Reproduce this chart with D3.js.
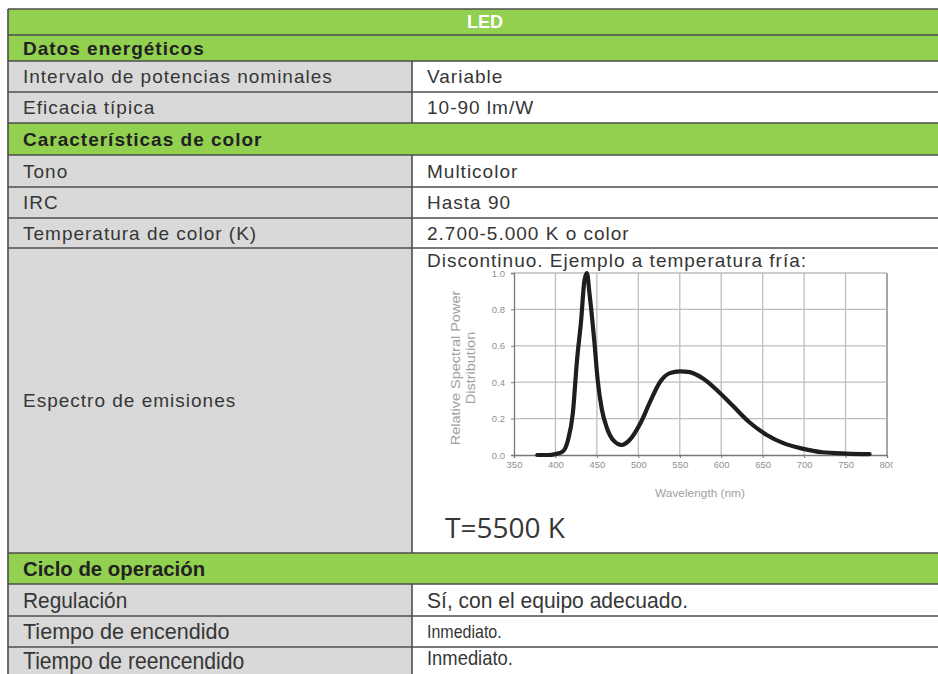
<!DOCTYPE html>
<html lang="es">
<head>
<meta charset="UTF-8">
<title>LED</title>
<script src="https://cdnjs.cloudflare.com/ajax/libs/d3/7.8.5/d3.min.js"></script>
<style>
    body { margin: 0; background: #fff; }
    svg { display: block; }
</style>
</head>
<body>
<svg id="chart" width="938" height="674"></svg>
<script>
// table content
const tableTitle = "LED";
const rowKinds = ["title", "section", "row", "row", "section", "row", "row", "row", "chart", "section", "row", "row", "row"];
const rowLabels = ["LED", "Datos energéticos", "Intervalo de potencias nominales", "Eficacia típica",
    "Características de color", "Tono", "IRC", "Temperatura de color (K)", "Espectro de emisiones",
    "Ciclo de operación", "Regulación", "Tiempo de encendido", "Tiempo de reencendido"];
const rowValues = ["", "", "Variable", "10-90 lm/W", "", "Multicolor", "Hasta 90", "2.700-5.000 K o color",
    "Discontinuo. Ejemplo a temperatura fría:", "", "Sí, con el equipo adecuado.", "Inmediato.", "Inmediato."];

// spectrum
const wavelengths = [378, 390, 400, 409, 415, 421, 426, 431, 435, 438, 441, 447, 451, 456, 462, 470, 480, 490,
    502, 514, 526, 538, 550, 562, 578, 594, 614, 634, 655, 675, 698, 722, 751, 779];
const spd = [0, 0, 0.005, 0.02, 0.08, 0.23, 0.52, 0.74, 0.96, 1.0, 0.89, 0.62, 0.41, 0.25, 0.15, 0.08, 0.055, 0.085,
    0.17, 0.29, 0.40, 0.45, 0.46, 0.455, 0.42, 0.36, 0.27, 0.18, 0.11, 0.065, 0.035, 0.015, 0.008, 0.005];
const xTicks = [350, 400, 450, 500, 550, 600, 650, 700, 750, 800];
const yTicks = [0, 0.2, 0.4, 0.6, 0.8, 1.0];
const colorTemp = "T=5500 K";

// layout
const rowEdges = [9, 35, 61, 92, 123, 155, 187, 218, 248, 553, 584, 616, 647, 690];
const tableLeft = 8, tableRight = 940, colSplit = 412;
const green = "#92d050", grey = "#d9d9d9", line = "#4d4d4d", ink = "#363636";
const sans = "Liberation Sans, Arial, sans-serif";
// the last block is set in another face: [font size, horizontal scale]
const lower = {
    9: { label: [21, 0.97] },
    10: { label: [21.5, 0.97], value: [21.5, 0.98] },
    11: { label: [22, 0.98], value: [18, 0.89] },
    12: { label: [23, 0.92], value: [20, 0.92] }
};

const svg = d3.select("#chart");

function addText(x, y, s, opts) {
    const sx = opts.scale || 1;
    return svg.append("text")
        .attr("transform", `translate(${x},${y}) scale(${sx},1)`)
        .attr("dy", "0.36em")
        .attr("font-family", sans)
        .attr("font-size", opts.size)
        .attr("font-weight", opts.bold ? "bold" : "normal")
        .attr("letter-spacing", opts.spacing || 0)
        .attr("fill", opts.fill || ink)
        .text(s);
}

rowKinds.forEach((kind, i) => {
    const y0 = rowEdges[i], y1 = rowEdges[i + 1];
    const cy = (y0 + y1) / 2;
    const lw = lower[i];
    if (kind === "title" || kind === "section") {
        svg.append("rect").attr("x", tableLeft).attr("y", y0).attr("width", tableRight - tableLeft)
            .attr("height", y1 - y0).attr("fill", green);
        if (kind === "title") {
            addText(485, cy, tableTitle, { size: 18, bold: true, fill: "#fff" }).attr("text-anchor", "middle");
        } else if (lw) {
            addText(23, cy, rowLabels[i], { size: lw.label[0], scale: lw.label[1], bold: true, fill: "#222" });
        } else {
            addText(23, cy, rowLabels[i], { size: 19, bold: true, spacing: 1, fill: "#222" });
        }
        return;
    }
    svg.append("rect").attr("x", tableLeft).attr("y", y0).attr("width", colSplit - tableLeft)
        .attr("height", y1 - y0).attr("fill", grey);
    svg.append("rect").attr("x", colSplit).attr("y", y0).attr("width", tableRight - colSplit)
        .attr("height", y1 - y0).attr("fill", "#fff");

    const last = i === rowKinds.length - 1;
    const labelY = last ? 661 : cy;
    const valueY = kind === "chart" ? 260 : (last ? 658 : cy);
    if (lw) {
        addText(23, labelY, rowLabels[i], { size: lw.label[0], scale: lw.label[1] });
        addText(427, valueY, rowValues[i], { size: lw.value[0], scale: lw.value[1] });
    } else {
        addText(23, labelY, rowLabels[i], { size: 19, spacing: 1 });
        addText(427, valueY, rowValues[i], { size: 19, spacing: 1 });
    }
});

// table rules
svg.append("g").selectAll("line").data(rowEdges.slice(0, -1)).join("line")
    .attr("x1", tableLeft).attr("x2", tableRight)
    .attr("y1", d => d).attr("y2", d => d)
    .attr("stroke", line).attr("stroke-width", 1.6);
svg.append("line").attr("x1", tableLeft).attr("x2", tableLeft).attr("y1", rowEdges[0]).attr("y2", 674)
    .attr("stroke", line).attr("stroke-width", 1.6);
rowKinds.forEach((kind, i) => {
    if (kind === "row" || kind === "chart") {
        svg.append("line").attr("x1", colSplit).attr("x2", colSplit)
            .attr("y1", rowEdges[i]).attr("y2", rowEdges[i + 1])
            .attr("stroke", line).attr("stroke-width", 1.6);
    }
});

// embedded spectrum plot (the picture is cropped at the top and right)
svg.append("clipPath").attr("id", "plotClip")
    .append("rect").attr("x", 420).attr("y", 269).attr("width", 473).attr("height", 240);
const plot = svg.append("g").attr("clip-path", "url(#plotClip)");

const x = d3.scaleLinear().domain([350, 800]).range([514, 887]);
const y = d3.scaleLinear().domain([0, 1]).range([455, 273]);

plot.append("g").selectAll("line").data(xTicks.slice(1)).join("line")
    .attr("x1", d => x(d)).attr("x2", d => x(d)).attr("y1", y(1)).attr("y2", y(0))
    .attr("stroke", d => d === 800 ? "#777" : "#bdbdbd").attr("stroke-width", 1.3);
plot.append("g").selectAll("line").data(yTicks.slice(1)).join("line")
    .attr("x1", x(350)).attr("x2", x(800)).attr("y1", d => y(d)).attr("y2", d => y(d))
    .attr("stroke", "#bdbdbd").attr("stroke-width", 1.3);

const xAxis = plot.append("g").attr("transform", `translate(0,${y(0)})`)
    .call(d3.axisBottom(x).tickValues(xTicks).tickSize(3).tickPadding(3).tickFormat(d3.format("d")));
const yAxis = plot.append("g").attr("transform", `translate(${x(350)},0)`)
    .call(d3.axisLeft(y).tickValues(yTicks).tickSize(3).tickPadding(6).tickFormat(d3.format(".1f")));
[xAxis, yAxis].forEach(a => {
    a.select(".domain").attr("stroke", "#777").attr("stroke-width", 1.3);
    a.selectAll(".tick line").attr("stroke", "#777");
    a.selectAll("text").attr("fill", "#8f8f8f").attr("font-size", 9.5).attr("font-family", sans);
});

plot.append("text").attr("transform", `translate(456,368) rotate(-90) scale(1.16,1)`)
    .attr("text-anchor", "middle").attr("dy", "0.35em").attr("font-size", 12.5).attr("fill", "#a0a0a0")
    .attr("font-family", sans).text("Relative Spectral Power");
plot.append("text").attr("transform", `translate(471,368) rotate(-90) scale(1.16,1)`)
    .attr("text-anchor", "middle").attr("dy", "0.35em").attr("font-size", 12.5).attr("fill", "#a0a0a0")
    .attr("font-family", sans).text("Distribution");
plot.append("text").attr("transform", `translate(700,493) scale(1.08,1)`)
    .attr("text-anchor", "middle").attr("dy", "0.35em").attr("font-size", 11).attr("fill", "#a0a0a0")
    .attr("font-family", sans).text("Wavelength (nm)");

plot.append("path")
    .datum(wavelengths.map((w, i) => [w, spd[i]]))
    .attr("fill", "none").attr("stroke", "#1e1e1e").attr("stroke-width", 4.2)
    .attr("stroke-linejoin", "round").attr("stroke-linecap", "round")
    .attr("d", d3.line().x(d => x(d[0])).y(d => y(d[1])).curve(d3.curveMonotoneX));

svg.append("text").attr("x", 445).attr("y", 538)
    .attr("font-family", "Open Sans, sans-serif").attr("font-size", 28).attr("fill", ink)
    .text(colorTemp);
</script>
</body>
</html>
